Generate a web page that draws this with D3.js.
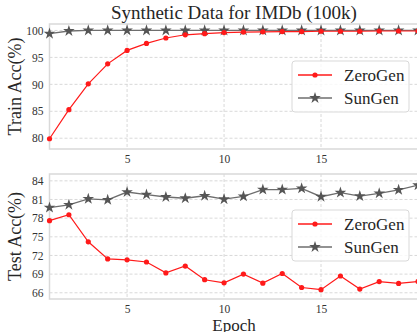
<!DOCTYPE html>
<html>
<head>
<meta charset="utf-8">
<script src="https://cdn.jsdelivr.net/npm/d3@7"></script>
<style>
  body { margin: 0; background: #fff; }
  svg { display: block; }
  text { font-family: "Liberation Serif", "DejaVu Serif", serif; }
</style>
</head>
<body>
<svg id="chart" width="417" height="332"></svg>
<script>
// DADOS
var epochs = d3.range(1, 21);
var train_zerogen = [79.9, 85.3, 90.1, 93.8, 96.3, 97.6, 98.6, 99.2, 99.4, 99.6, 99.7, 99.75, 99.8, 99.8, 99.85, 99.85, 99.85, 99.9, 99.9, 99.9];
var train_sungen = [99.4, 99.9, 100, 100, 100, 100, 100, 100, 100, 100, 100, 100, 100, 100, 100, 100, 100, 100, 100, 100];
var test_zerogen = [77.6, 78.55, 74.2, 71.45, 71.3, 70.95, 69.2, 70.3, 68.1, 67.6, 69.0, 67.55, 69.1, 66.85, 66.5, 68.7, 66.6, 67.8, 67.5, 67.8];
var test_sungen = [79.7, 80.15, 81.1, 80.95, 82.2, 81.8, 81.4, 81.2, 81.6, 81.05, 81.5, 82.6, 82.6, 82.8, 81.45, 82.1, 81.55, 82.0, 82.55, 83.3];
var x_ticks = [5, 10, 15];
var train_ticks = [80, 85, 90, 95, 100];
var test_ticks = [66, 69, 72, 75, 78, 81, 84];
var series_names = ["ZeroGen", "SunGen"];

var svg = d3.select("#chart");
var left = 49.5, right = 418;

var x = d3.scaleLinear().domain([1, 20]).range([left, right]);

//TITULO
svg.append("text")
    .attr("x", 234).attr("y", 19)
    .attr("text-anchor", "middle")
    .attr("font-size", "19px")
    .attr("fill", "#262626")
    .text("Synthetic Data for IMDb (100k)");

function painel(top, bottom, domain, ticks, zero, sun, ylabel, legTop) {
    let y = d3.scaleLinear().domain(domain).range([bottom, top]);
    let g = svg.append("g");

    //GRELHA
    g.selectAll(".gx").data(x_ticks).enter().append("line")
        .attr("x1", d => x(d)).attr("x2", d => x(d))
        .attr("y1", top).attr("y2", bottom)
        .attr("stroke", "#cfcfcf").attr("stroke-width", 0.8)
        .attr("stroke-dasharray", "3,2");
    g.selectAll(".gy").data(ticks).enter().append("line")
        .attr("x1", left).attr("x2", right)
        .attr("y1", d => y(d)).attr("y2", d => y(d))
        .attr("stroke", "#cfcfcf").attr("stroke-width", 0.8)
        .attr("stroke-dasharray", "3,2");

    //MOLDURA
    g.append("rect")
        .attr("x", left).attr("y", top)
        .attr("width", right - left).attr("height", bottom - top)
        .attr("fill", "none").attr("stroke", "#d9d9d9").attr("stroke-width", 1.5);

    //EIXOS
    let ax = g.append("g").attr("transform", "translate(0," + bottom + ")")
        .call(d3.axisBottom(x).tickValues(x_ticks).tickSize(0).tickPadding(6));
    ax.select(".domain").remove();
    ax.selectAll("text").attr("font-family", "Liberation Serif").attr("font-size", "11.5px").attr("fill", "#333");

    let ay = g.append("g").attr("transform", "translate(" + left + ",0)")
        .call(d3.axisLeft(y).tickValues(ticks).tickSize(0).tickPadding(6));
    ay.select(".domain").remove();
    ay.selectAll("text").attr("font-family", "Liberation Serif").attr("font-size", "11.5px").attr("fill", "#333");

    g.append("text")
        .attr("transform", "translate(21," + ((top + bottom) / 2) + ") rotate(-90)")
        .attr("text-anchor", "middle")
        .attr("font-size", "18px")
        .attr("fill", "#262626")
        .text(ylabel);

    //LINHAS
    let clip = "clip" + Math.round(top);
    g.append("clipPath").attr("id", clip).append("rect")
        .attr("x", left - 6).attr("y", top - 6).attr("width", right - left + 12).attr("height", bottom - top + 12);
    let area = g.append("g").attr("clip-path", "url(#" + clip + ")");

    let line = d3.line().x((d, i) => x(epochs[i])).y(d => y(d));

    area.append("path").datum(sun)
        .attr("d", line).attr("fill", "none")
        .attr("stroke", "#6e6e6e").attr("stroke-width", 1.3);
    area.selectAll(".star").data(sun).enter().append("path")
        .attr("d", d3.symbol().type(d3.symbolStar).size(42))
        .attr("transform", (d, i) => "translate(" + x(epochs[i]) + "," + y(d) + ")")
        .attr("fill", "#555");

    area.append("path").datum(zero)
        .attr("d", line).attr("fill", "none")
        .attr("stroke", "#ff1a1a").attr("stroke-width", 1.2);
    area.selectAll(".dot").data(zero).enter().append("circle")
        .attr("cx", (d, i) => x(epochs[i])).attr("cy", d => y(d))
        .attr("r", 2.6).attr("fill", "#ff1a1a");

    //LEGENDA
    let leg = g.append("g").attr("transform", "translate(292," + legTop + ")");
    leg.append("rect")
        .attr("width", 117).attr("height", 51).attr("rx", 3)
        .attr("fill", "#fff").attr("fill-opacity", 0.8)
        .attr("stroke", "#d9d9d9").attr("stroke-width", 1);
    let cores = ["#ff1a1a", "#6e6e6e"];
    series_names.forEach(function (nome, i) {
        let yy = 14 + i * 23;
        leg.append("line").attr("x1", 6).attr("x2", 40).attr("y1", yy).attr("y2", yy)
            .attr("stroke", cores[i]).attr("stroke-width", 1.3);
        if (i == 0) {
            leg.append("circle").attr("cx", 23).attr("cy", yy).attr("r", 2.6).attr("fill", cores[i]);
        } else {
            leg.append("path").attr("d", d3.symbol().type(d3.symbolStar).size(42))
                .attr("transform", "translate(23," + yy + ")").attr("fill", "#555");
        }
        leg.append("text").attr("x", 52).attr("y", yy + 6)
            .attr("font-size", "17px").attr("fill", "#262626").text(nome);
    });
}

painel(24, 149, [78, 101.2], train_ticks, train_zerogen, train_sungen, "Train Acc(%)", 61);
painel(174, 299, [65, 85.1], test_ticks, test_zerogen, test_sungen, "Test Acc(%)", 210);

// "Epoch" fica cortado em baixo, como no original
svg.append("text")
    .attr("x", 234).attr("y", 331)
    .attr("text-anchor", "middle")
    .attr("font-size", "17px")
    .attr("fill", "#262626")
    .text("Epoch");
</script>
</body>
</html>
